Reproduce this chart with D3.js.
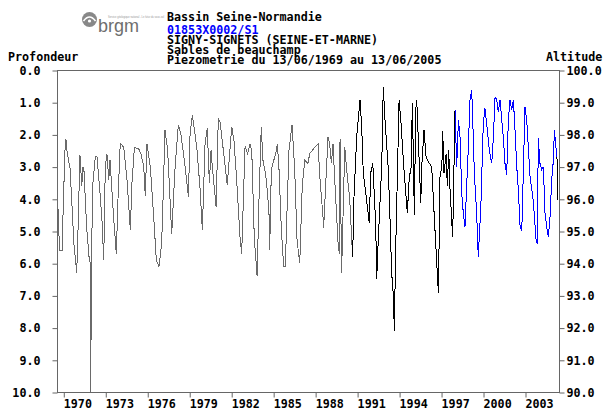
<!DOCTYPE html>
<html><head><meta charset="utf-8">
<script src="https://cdn.jsdelivr.net/npm/d3@7"></script>
<style>
html,body{margin:0;padding:0;background:#fff;}
svg{display:block;}
text{font-family:"DejaVu Sans Mono",monospace;font-weight:bold;font-size:11.7px;fill:#000;}
</style></head><body>
<script>
// ---- data (decimal year, depth in m) ----
const headerLines = ["Bassin Seine-Normandie","01853X0002/S1","SIGNY-SIGNETS (SEINE-ET-MARNE)","Sables de beauchamp","Piezometrie du 13/06/1969 au 13/06/2005"];
const leftTicks = [0,1,2,3,4,5,6,7,8,9,10];
const rightTicks = [100,99,98,97,96,95,94,93,92,91,90];
const yearTicks = [1970,1973,1976,1979,1982,1985,1988,1991,1994,1997,2000,2003];

const grayYears = [1969.55,1969.62,1969.73,1969.91,1970.00,1970.12,1970.19,1970.26,1970.41,1970.48,1970.62,1970.76,1970.96,1971.05,1971.19,1971.32,1971.41,1971.48,1971.67,1971.84,1971.93,1971.97,1972.00,1972.12,1972.29,1972.41,1972.62,1972.77,1972.89,1973.00,1973.12,1973.25,1973.34,1973.60,1973.79,1973.91,1974.07,1974.32,1974.55,1974.79,1974.91,1975.08,1975.39,1975.55,1975.75,1975.86,1975.98,1976.22,1976.46,1976.65,1976.84,1977.03,1977.13,1977.27,1977.46,1977.63,1977.75,1977.98,1978.22,1978.41,1978.65,1978.94,1979.06,1979.22,1979.29,1979.54,1979.77,1979.94,1980.13,1980.29,1980.44,1980.56,1980.65,1980.92,1981.08,1981.20,1981.44,1981.72,1982.04,1982.20,1982.39,1982.63,1982.75,1982.99,1983.18,1983.35,1983.47,1983.65,1983.85,1983.99,1984.15,1984.27,1984.40,1984.51,1984.70,1984.75,1984.87,1984.99,1985.23,1985.30,1985.42,1985.58,1985.75,1985.87,1985.99,1986.13,1986.35,1986.54,1986.71,1986.90,1987.08,1987.26,1987.49,1987.61,1987.97,1988.21,1988.33,1988.56,1988.61,1988.92,1989.04,1989.16,1989.28,1989.40,1989.64,1989.73,1989.78,1989.89,1990.12,1990.23,1990.47,1990.68];
const grayDepth = [3.0,4.3,5.6,5.6,4.2,2.5,2.15,2.5,2.9,3.05,4.2,5.4,6.3,5.0,2.64,3.6,3.0,3.15,4.9,5.8,6.0,10.0,6.0,3.5,2.7,2.7,3.8,4.7,5.9,3.0,2.6,3.4,2.8,4.6,5.7,4.0,2.27,2.4,3.4,4.97,3.5,2.4,2.45,2.6,3.0,3.9,2.3,3.0,4.55,5.9,6.1,5.4,4.0,1.86,2.5,4.04,5.1,3.1,1.7,2.0,2.8,3.93,2.0,1.4,1.6,2.4,3.66,4.97,2.3,1.8,3.5,2.5,3.0,4.24,1.5,1.6,2.5,3.57,1.76,2.2,3.4,5.2,5.7,2.38,2.6,2.3,2.5,5.2,6.4,4.0,1.76,2.8,3.1,3.4,4.4,5.6,3.1,2.9,2.5,2.3,3.1,4.9,6.1,6.1,4.4,2.5,1.7,3.1,5.3,6.0,3.6,2.8,2.9,2.6,2.4,2.3,3.3,4.55,4.9,2.07,2.3,2.9,2.3,3.4,5.38,5.7,2.15,6.3,2.38,3.0,4.0,5.8];

const blackYears = [1990.68,1990.78,1990.97,1991.09,1991.21,1991.33,1991.44,1991.64,1991.87,1991.97,1992.12,1992.21,1992.33,1992.40,1992.52,1992.69,1992.76,1992.87,1993.00,1993.23,1993.35,1993.47,1993.59,1993.66,1993.76,1993.83,1994.00,1994.14,1994.35,1994.59,1994.73,1994.85,1994.95,1995.02,1995.09,1995.19,1995.26,1995.38,1995.55,1995.62,1995.78,1995.93,1996.16,1996.33,1996.57,1996.73,1996.81,1996.93,1997.05,1997.12,1997.21,1997.36,1997.45,1997.55,1997.64,1997.83,1998.00];
const blackDepth = [5.8,3.9,2.07,1.5,0.93,1.8,3.2,3.9,4.76,3.2,2.9,3.7,4.8,6.5,5.2,3.6,3.0,0.52,1.6,3.1,4.6,6.3,7.0,8.1,5.5,4.2,0.93,1.65,3.1,4.45,3.3,3.1,1.03,2.7,4.5,1.24,0.93,2.2,4.13,3.0,1.86,2.7,2.9,3.0,5.0,6.3,6.93,3.2,3.1,1.9,3.2,2.6,3.6,2.5,3.7,5.2,1.24];

const blueYears = [1998.00,1998.12,1998.24,1998.36,1998.48,1998.59,1998.71,1998.84,1998.95,1999.07,1999.19,1999.26,1999.38,1999.55,1999.66,1999.84,2000.02,2000.14,2000.27,2000.45,2000.62,2000.74,2000.86,2000.98,2001.09,2001.22,2001.34,2001.45,2001.57,2001.69,2001.81,2001.93,2002.05,2002.17,2002.29,2002.41,2002.52,2002.65,2002.77,2003.00,2003.12,2003.36,2003.60,2003.79,2003.88,2003.95,2004.07,2004.20,2004.31,2004.43,2004.55,2004.67,2004.79,2004.91,2005.03,2005.10,2005.27];
const blueDepth = [1.24,3.0,1.55,2.1,3.83,4.45,4.87,3.5,2.4,0.93,0.62,1.5,3.2,4.5,5.8,4.3,1.65,1.19,1.7,2.5,2.9,2.1,0.83,0.93,1.3,0.93,1.55,2.1,2.9,3.26,1.55,0.93,1.24,0.93,1.9,3.0,3.7,4.87,5.0,1.14,1.55,3.3,4.1,5.28,5.4,2.1,2.9,3.1,3.0,4.45,4.87,5.2,4.55,3.4,2.8,1.85,2.7];

const tailYears = [2005.27,2005.34,2005.35];
const tailDepth = [2.7,3.0,4.04];

// ---- drawing ----
const W = 604, H = 410;
const svg = d3.select("body").append("svg").attr("width", W).attr("height", H);
svg.append("rect").attr("width", W).attr("height", H).attr("fill", "#fff");

const x = d3.scaleLinear().domain([1969.55, 2005.43]).range([57, 559]);
const y = d3.scaleLinear().domain([0, 10]).range([70, 392]);
const yR = d3.scaleLinear().domain([100, 90]).range([70, 392]);

const axisColor = "#666";

// frame
svg.append("rect").attr("x", 57.5).attr("y", 70.5).attr("width", 502).attr("height", 322)
  .attr("fill", "none").attr("stroke", axisColor).attr("stroke-width", 1);

// left axis
const gl = svg.append("g").attr("transform", "translate(57.5,0.5)")
  .call(d3.axisLeft(y).tickValues(leftTicks).tickSize(5).tickPadding(12).tickFormat(d3.format(".1f")));
// right axis
const gr = svg.append("g").attr("transform", "translate(559.5,0.5)")
  .call(d3.axisRight(yR).tickValues(rightTicks).tickSize(5).tickPadding(2).tickFormat(d3.format(".1f")));
// bottom axis
const gb = svg.append("g").attr("transform", "translate(0.5,392.5)")
  .call(d3.axisBottom(x).tickValues(yearTicks).tickSize(5).tickPadding(2).tickFormat(d3.format("d")));
[gl, gr, gb].forEach(g => {
  g.select(".domain").remove();
  g.selectAll(".tick line").attr("stroke", axisColor);
  g.selectAll("text").attr("fill", "#000").style("font-family", '"DejaVu Sans Mono",monospace')
    .style("font-weight", "bold").style("font-size", "11.7px");
});
gb.selectAll("text").attr("text-anchor", "start").attr("dx", "-0.5");
gl.selectAll("text").attr("x", -17);

// axis titles
svg.append("text").attr("x", 8).attr("y", 61).text("Profondeur");
svg.append("text").attr("x", 546).attr("y", 61).text("Altitude");

// header
const hb = [21, 34, 44, 54, 64];
headerLines.forEach((t, i) => {
  svg.append("text").attr("x", 167).attr("y", hb[i]).attr("fill", i === 1 ? "#0000ff" : "#000")
    .style("fill", i === 1 ? "#0000ff" : "#000").text(t);
});

// logo
const logo = svg.append("g");
logo.append("circle").attr("cx", 89.5).attr("cy", 19.5).attr("r", 7.5).attr("fill", "#888");
logo.append("path").attr("d", "M83.5,21 Q89.5,13 95.5,21").attr("fill", "none").attr("stroke", "#fff").attr("stroke-width", 1.6);
logo.append("circle").attr("cx", 89.5).attr("cy", 21).attr("r", 1.6).attr("fill", "#fff");
logo.append("text").attr("x", 98).attr("y", 32).attr("textLength", 41).attr("lengthAdjust", "spacingAndGlyphs")
  .style("font-family", '"Liberation Sans",Arial,sans-serif').style("font-weight", "normal").style("font-size", "18px")
  .style("fill", "#6e6e6e").text("brgm");
logo.append("text").attr("x", 108).attr("y", 17.5).attr("textLength", 56).attr("lengthAdjust", "spacingAndGlyphs")
  .style("font-family", '"Liberation Sans",Arial,sans-serif').style("font-weight", "normal").style("font-size", "3.5px")
  .style("fill", "#999").text("Service géologique national - Le futur du sous-sol");

// series
const line = d3.line().x(d => x(d[0])).y(d => y(d[1]));
function drawSeries(years, depths, color) {
  const pts = years.map((yr, i) => [yr, depths[i]]);
  svg.append("path").datum(pts).attr("d", line).attr("fill", "none")
    .attr("stroke", color).attr("stroke-width", 1).attr("shape-rendering", "crispEdges");
}
drawSeries(grayYears, grayDepth, "#6a6a6a");
drawSeries(blackYears, blackDepth, "#000");
drawSeries(blueYears, blueDepth, "#0000ff");
drawSeries(tailYears, tailDepth, "#000");
</script>
</body></html>
